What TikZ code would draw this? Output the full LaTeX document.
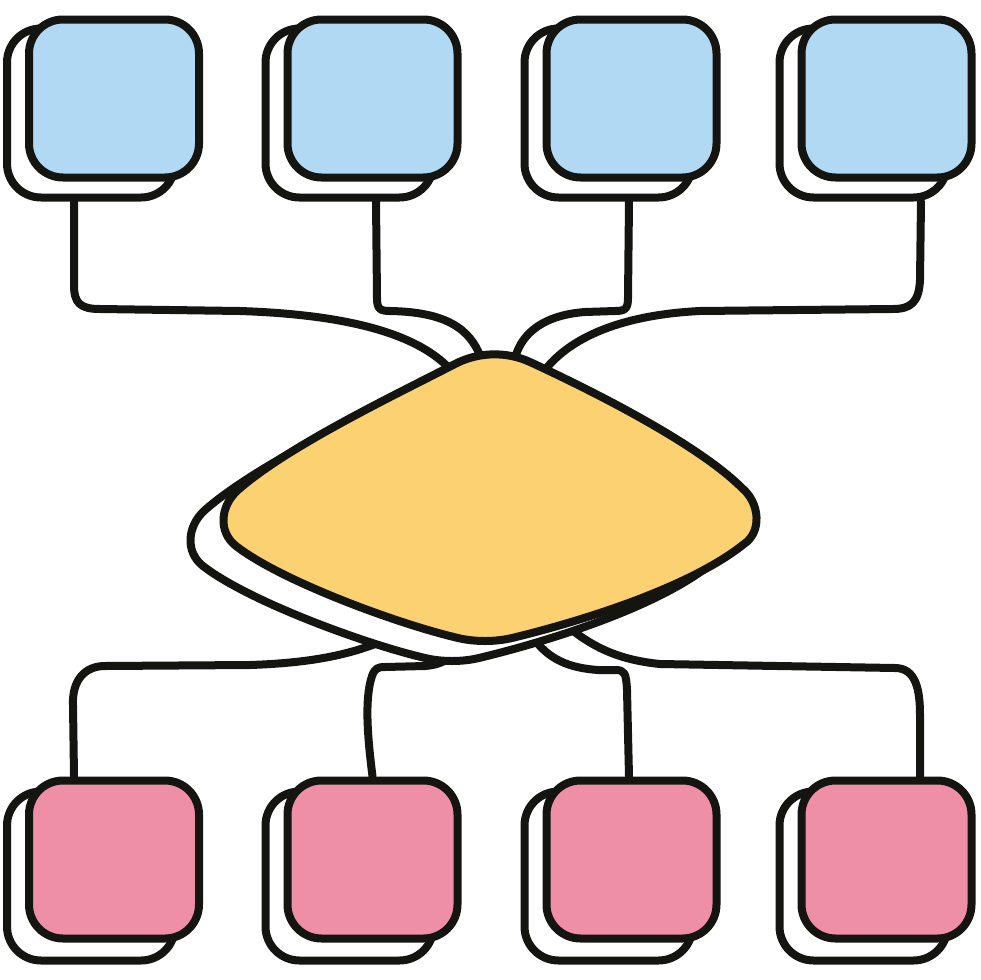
\documentclass[tikz,border=0pt]{standalone}
\usepackage{tikz}
\usetikzlibrary{positioning}
\definecolor{inkc}{HTML}{141411}
\definecolor{skyc}{HTML}{B1D9F3}
\definecolor{rosec}{HTML}{EF8FA7}
\definecolor{sunc}{HTML}{FCD171}
\tikzstyle{card}=[draw=inkc,line width=8pt,rounded corners=34pt,inner sep=0pt,minimum width=170pt,minimum height=158pt]
\tikzstyle{ghost}=[card,fill=white,minimum width=168pt,minimum height=169pt]
\tikzstyle{topcard}=[card,fill=skyc]
\tikzstyle{botcard}=[card,fill=rosec]
\tikzstyle{link}=[draw=inkc,line width=8pt,line cap=round,line join=round]
\tikzstyle{hub}=[draw=inkc,line width=8pt,line join=round]
\newcommand\hubpath{(455,364) .. controls (478,352) and (506,351) .. (530,362)
  .. controls (610,399) and (702,448) .. (742,488)
  .. controls (760,503) and (762,532) .. (744,544)
  .. controls (684,592) and (562,626) .. (512,638)
  .. controls (495,642) and (475,642) .. (458,638)
  .. controls (398,624) and (281,581) .. (236,546)
  .. controls (218,532) and (220,506) .. (238,490)
  .. controls (288,446) and (395,395) .. (455,364) -- cycle}

\begin{document}
\begin{tikzpicture}[x=1pt,y=-1pt]
                  \useasboundingbox (0,0) rectangle (980,980);
                  \foreach \i/\cx in {1/114, 2/372.5, 3/631.5, 4/886.5}
                    {\node[ghost] (ts\i) at (\cx-23,113) {};
                     \node[topcard] (t\i) at (\cx,98.5) {};
                     \node[ghost] (bs\i) at (\cx-23,876) {};
                     \node[botcard] (b\i) at (\cx,859.5) {};}
                  \coordinate (h1) at (449,368);
                  \coordinate (h2) at (481,358);
                  \coordinate (h3) at (515,358);
                  \coordinate (h4) at (545,370);
                  \coordinate (h5) at (385,640);
                  \coordinate (h6) at (450,656);
                  \coordinate (h7) at (532,636);
                  \coordinate (h8) at (572,630);
                  \draw[link] ([xshift=-17pt]ts1.south) -- (74,285) .. controls (74,303) and (80,309) .. (100,309)
                    -- (240,311) .. controls (360,315) and (420,338) .. (h1);
                  \draw[link] ([xshift=26.5pt]ts2.south) -- (377,298) .. controls (377,309) and (380,311) .. (390,311)
                    .. controls (445,312) and (470,328) .. (h2);
                  \draw[link] ([xshift=20.5pt]ts3.south) -- (628,298) .. controls (628,309) and (625,311) .. (615,311)
                    -- (585,312) .. controls (545,315) and (522,332) .. (h3);
                  \draw[link] ([xshift=57.5pt]ts4.south) -- (920,280) .. controls (919,303) and (910,309) .. (893,309)
                    -- (700,311) .. controls (620,315) and (570,338) .. (h4);
                  \draw[link] ([xshift=-40pt]b1.north) -- (73,705) .. controls (72,680) and (85,666) .. (105,666)
                    -- (250,665) .. controls (310,663) and (350,655) .. (h5);
                  \draw[link] (b2.north) .. controls (368,740) and (364,700) .. (372,676)
                    .. controls (375,668) and (378,667) .. (385,667) -- (425,666) .. controls (437,665) and (445,662) .. (h6);
                  \draw[link] ([xshift=-2.5pt]b3.north) -- (627,690) .. controls (626,673) and (625,670) .. (615,670)
                    -- (598,670) .. controls (570,668) and (548,660) .. (h7);
                  \draw[link] ([xshift=33.5pt]b4.north) -- (920,715) .. controls (920,690) and (916,668) .. (895,668)
                    -- (660,664) .. controls (620,660) and (595,648) .. (h8);
                  \begin{scope}[shift={(-33,20)}]
                    \path[hub,fill=white] \hubpath;
                  \end{scope}
                  \path[hub,fill=sunc] \hubpath;
                \end{tikzpicture}
\end{document}
